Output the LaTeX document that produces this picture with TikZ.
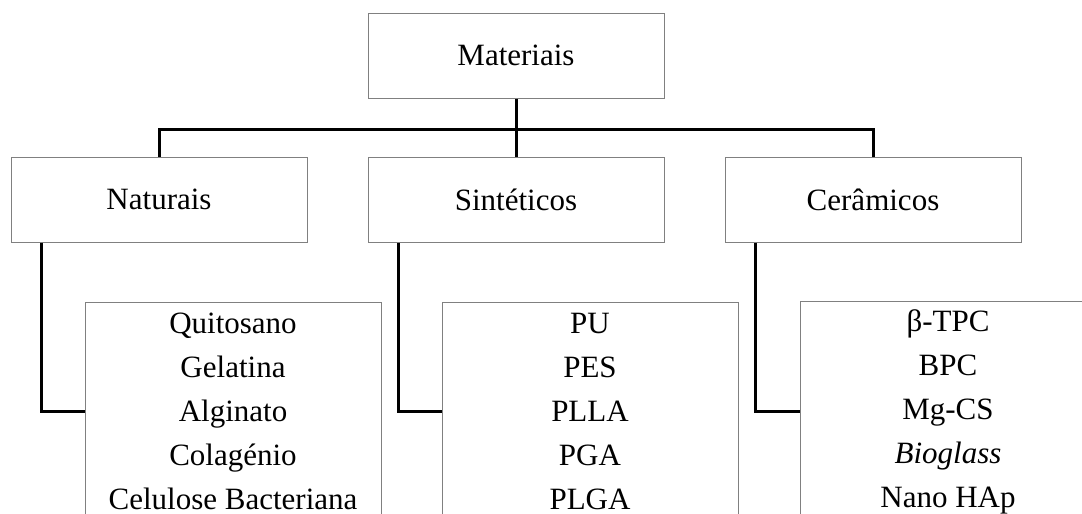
\documentclass[tikz,border=0pt]{standalone}
\usepackage{fontspec}
\setmainfont{Liberation Serif}
\usepackage{tikz}
\usetikzlibrary{positioning, calc}

\begin{document}
\begin{tikzpicture}[
  x=0.5pt, y=-0.5pt,
  catbox/.style={draw=black!50, line width=0.5pt, minimum width=148pt, minimum height=42.5pt, align=center, font=\fontsize{15.5}{22}\selectfont, inner sep=0pt},
  listbox/.style={draw=black!50, line width=0.5pt, minimum width=148pt, minimum height=109pt, align=center, font=\fontsize{15.5}{22}\selectfont, inner sep=0pt},
  link/.style={draw=black, line width=1.5pt}
]
  \useasboundingbox (0,0) rectangle (1082,514);
  \clip (0,0) rectangle (1082,514);

  \node[catbox] (mat) at (516, 55.5) {Materiais};

  \node[catbox] (nat) at (159, 199.5) {Naturais};
  \node[catbox] (sin) at (516, 199.5) {Sintéticos};
  \node[catbox] (cer) at (873, 199.5) {Cerâmicos};

  \node[listbox] (natl) at (233, 411) {Quitosano\\Gelatina\\Alginato\\Colagénio\\Celulose Bacteriana};
  \node[listbox] (sinl) at (590, 411) {PU\\PES\\PLLA\\PGA\\PLGA};
  \node[listbox] (cerl) at (948, 411) {\strut β-TPC\\\strut BPC\\\strut Mg-CS\\\strut\textit{Bioglass}\\\strut Nano HAp};

  % tree
  \coordinate (bar) at (516, 129);
  \draw[link] (nat.north) |- (bar) -| (cer.north);
  \draw[link] (mat.south) -- (sin.north);

  \draw[link] ([xshift=15.5pt]nat.south west) |- (natl.west);
  \draw[link] ([xshift=15.5pt]sin.south west) |- (sinl.west);
  \draw[link] ([xshift=15.5pt]cer.south west) |- (cerl.west);
\end{tikzpicture}
\end{document}
